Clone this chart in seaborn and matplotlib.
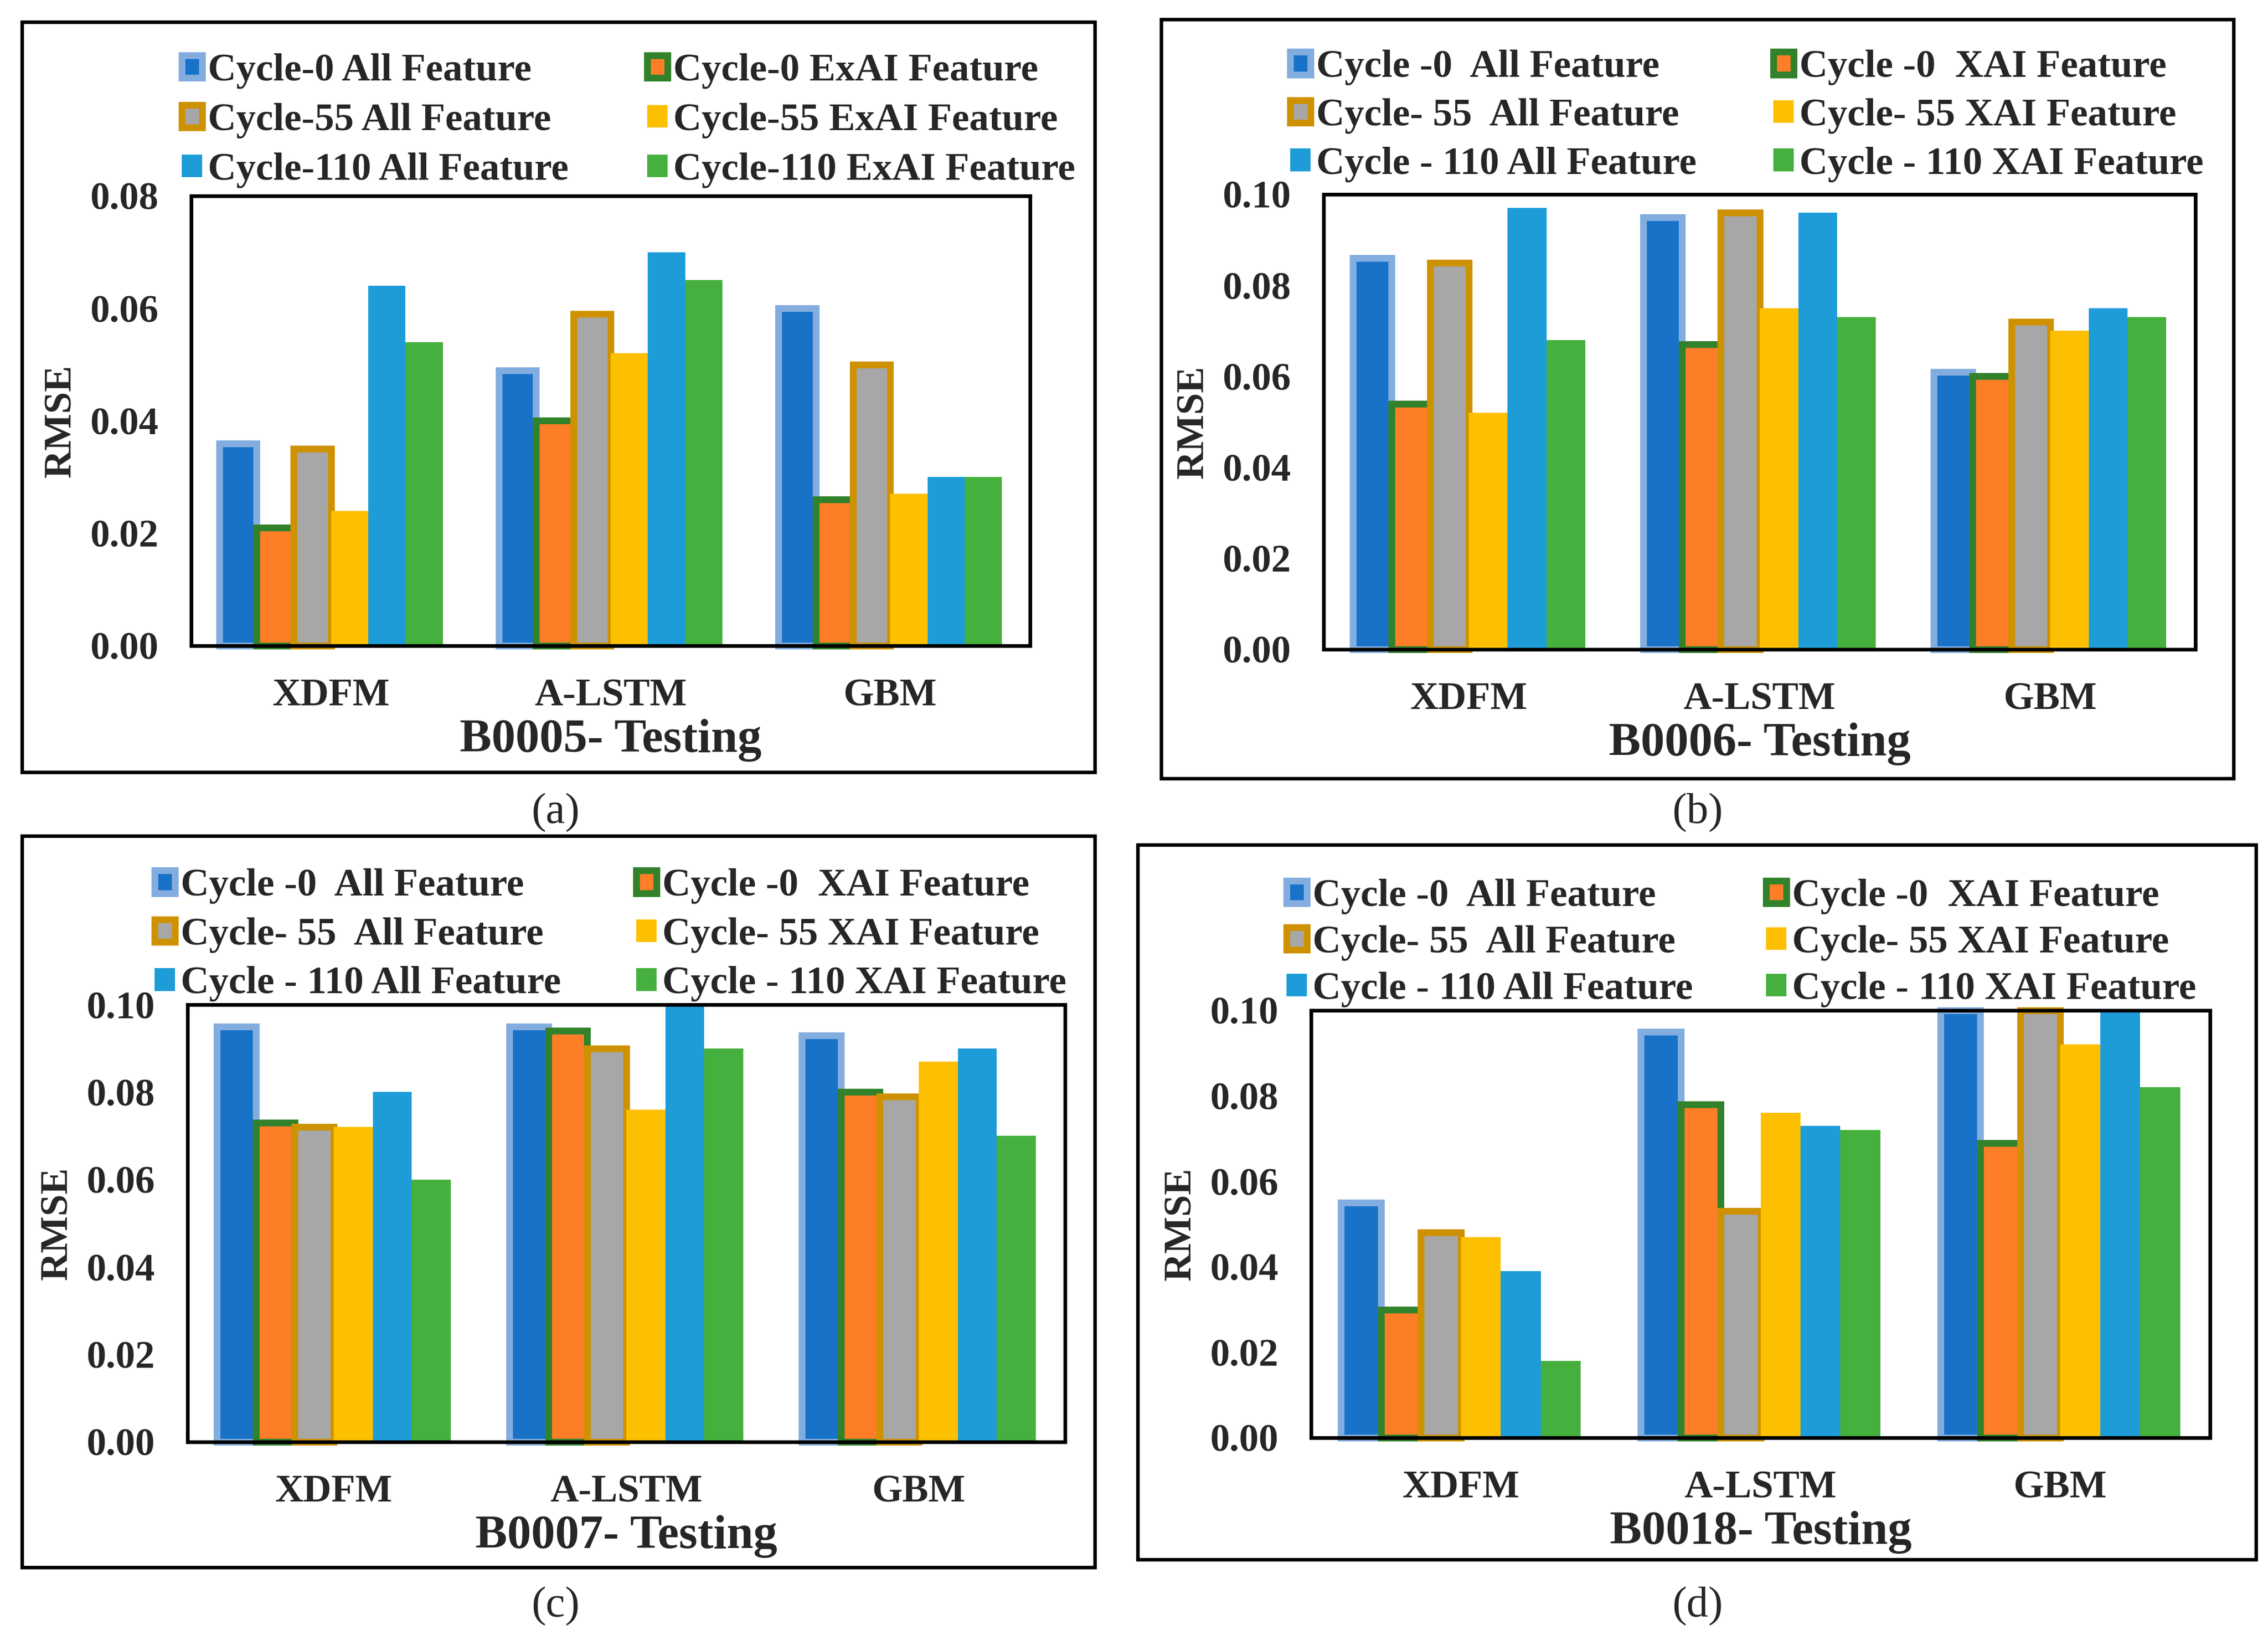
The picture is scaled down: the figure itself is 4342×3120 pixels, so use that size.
import numpy as np
import pandas as pd
import matplotlib
matplotlib.use('Agg')
import matplotlib.pyplot as plt
import seaborn as sns
from matplotlib.patches import Rectangle

# ==========================================
# Data (RMSE)
# ==========================================
models = ['XDFM', 'A-LSTM', 'GBM']
series = ['c0_all', 'c0_xai', 'c55_all', 'c55_xai', 'c110_all', 'c110_xai']

labels_a = ['Cycle-0 All Feature', 'Cycle-0 ExAI Feature',
            'Cycle-55 All Feature', 'Cycle-55 ExAI Feature',
            'Cycle-110 All Feature', 'Cycle-110 ExAI Feature']
labels_bcd = ['Cycle -0  All Feature', 'Cycle -0  XAI Feature',
              'Cycle- 55  All Feature', 'Cycle- 55 XAI Feature',
              'Cycle - 110 All Feature', 'Cycle - 110 XAI Feature']

# one row per model, columns in `series` order
rmse_b0005 = [[0.036, 0.021, 0.035, 0.024, 0.064, 0.054],
              [0.049, 0.040, 0.059, 0.052, 0.070, 0.065],
              [0.060, 0.026, 0.050, 0.027, 0.030, 0.030]]
rmse_b0006 = [[0.086, 0.054, 0.085, 0.052, 0.097, 0.068],
              [0.095, 0.067, 0.096, 0.075, 0.096, 0.073],
              [0.061, 0.060, 0.072, 0.070, 0.075, 0.073]]
rmse_b0007 = [[0.095, 0.073, 0.072, 0.072, 0.080, 0.060],
              [0.095, 0.094, 0.090, 0.076, 0.100, 0.090],
              [0.093, 0.080, 0.079, 0.087, 0.090, 0.070]]
rmse_b0018 = [[0.055, 0.030, 0.048, 0.047, 0.039, 0.018],
              [0.095, 0.078, 0.053, 0.076, 0.073, 0.072],
              [0.100, 0.069, 0.100, 0.092, 0.100, 0.082]]

titles = ['B0005- Testing', 'B0006- Testing', 'B0007- Testing', 'B0018- Testing']
captions = ['(a)', '(b)', '(c)', '(d)']
y_max = [0.08, 0.10, 0.10, 0.10]

# ==========================================
# Styles
# ==========================================
face = {'c0_all': '#1872C8', 'c0_xai': '#FE7E28', 'c55_all': '#A7A7A7',
        'c55_xai': '#FDC000', 'c110_all': '#1D9CD8', 'c110_xai': '#45B03D'}
edge = {'c0_all': '#83ADDF', 'c0_xai': '#31822B', 'c55_all': '#CE9200'}

sns.set_style('white')
plt.rcParams['font.family'] = ['Liberation Serif', 'DejaVu Serif']
plt.rcParams['font.weight'] = 'bold'

W, H, DPI = 4342, 3120, 300
fig = plt.figure(figsize=(W / DPI, H / DPI), dpi=DPI)

# layout in pixels: outer box, axes box, legend column x + middle row y, row spacing, caption
layout = [
    dict(box=(42, 42, 2096, 1478), ax=(366, 375, 1972, 1236), leg=(348, 1239, 231), ls=0.36, cap=(1064, 1556)),
    dict(box=(2223, 37, 4276, 1490), ax=(2534, 372, 4203, 1243), leg=(2470, 3395, 222), ls=0.33, cap=(3250, 1556)),
    dict(box=(42, 1600, 2096, 3000), ax=(359, 1923, 2039, 2760), leg=(296, 1218, 1790), ls=0.34, cap=(1064, 3075)),
    dict(box=(2178, 1617, 4319, 2985), ax=(2510, 1934, 4231, 2752), leg=(2463, 3381, 1805), ls=0.28, cap=(3250, 3075)),
]

def fx(px):
    return px / W

def fy(py):
    return 1 - py / H

panels = [rmse_b0005, rmse_b0006, rmse_b0007, rmse_b0018]

for i, rmse in enumerate(panels):
    L = layout[i]
    bx0, by0, bx1, by1 = L['box']
    fig.patches.append(Rectangle((fx(bx0), fy(by1)), fx(bx1 - bx0), (by1 - by0) / H,
                                 transform=fig.transFigure, fill=False,
                                 edgecolor='black', linewidth=1.6, zorder=0))
    ax0, ay0, ax1, ay1 = L['ax']
    ax = fig.add_axes([fx(ax0), fy(ay1), fx(ax1 - ax0), (ay1 - ay0) / H])
    aw, ah = ax1 - ax0, ay1 - ay0

    df = pd.DataFrame([(m, s, rmse[mi][si]) for mi, m in enumerate(models)
                       for si, s in enumerate(series)], columns=['Model', 'Series', 'RMSE'])
    sns.barplot(data=df, x='Model', y='RMSE', hue='Series', hue_order=series,
                order=models, palette=face, saturation=1, width=0.8,
                errorbar=None, legend=False, ax=ax)

    for s, cont in zip(series, ax.containers):
        for p in cont.patches:
            p.set_clip_on(False)
            if s in edge:
                p.set_edgecolor(edge[s])
                p.set_linewidth(3.1)
            else:
                p.set_linewidth(0)

    ax.set_ylim(0, y_max[i])
    ax.set_yticks(np.arange(0, y_max[i] + 1e-9, 0.02))
    ax.yaxis.set_major_formatter(matplotlib.ticker.FormatStrFormatter('%.2f'))
    ax.tick_params(axis='both', length=0, labelsize=18, pad=15)
    for t in ax.get_xticklabels() + ax.get_yticklabels():
        t.set_fontweight('bold')
    for sp in ax.spines.values():
        sp.set_visible(True)
        sp.set_color('black')
        sp.set_linewidth(1.7)

    ax.set_ylabel('RMSE', fontsize=18, fontweight='bold')
    ax.yaxis.set_label_coords(-215 / aw, 0.5)
    ax.set_xlabel(titles[i], fontsize=22, fontweight='bold', va='top')
    ax.xaxis.set_label_coords(0.5, -140 / ah)

    labels = labels_a if i == 0 else labels_bcd
    handles = [c.patches[0] for c in ax.containers]
    lx_left, lx_right, ly = L['leg']
    leg_kw = dict(loc='center left', frameon=False, handlelength=0.52,
                  handleheight=0.52, handletextpad=0.15, labelspacing=L['ls'],
                  borderpad=0, borderaxespad=0, bbox_transform=fig.transFigure,
                  prop={'weight': 'bold', 'size': 18})
    leg1 = ax.legend([handles[0], handles[2], handles[4]],
                     [labels[0], labels[2], labels[4]],
                     bbox_to_anchor=(fx(lx_left), fy(ly)), **leg_kw)
    ax.add_artist(leg1)
    ax.legend([handles[1], handles[3], handles[5]],
              [labels[1], labels[3], labels[5]],
              bbox_to_anchor=(fx(lx_right), fy(ly)), **leg_kw)

    cx, cy = L['cap']
    fig.text(fx(cx), fy(cy), captions[i], ha='center', va='center',
             fontsize=20, fontweight='normal')

fig.savefig('out.png', dpi=DPI)
